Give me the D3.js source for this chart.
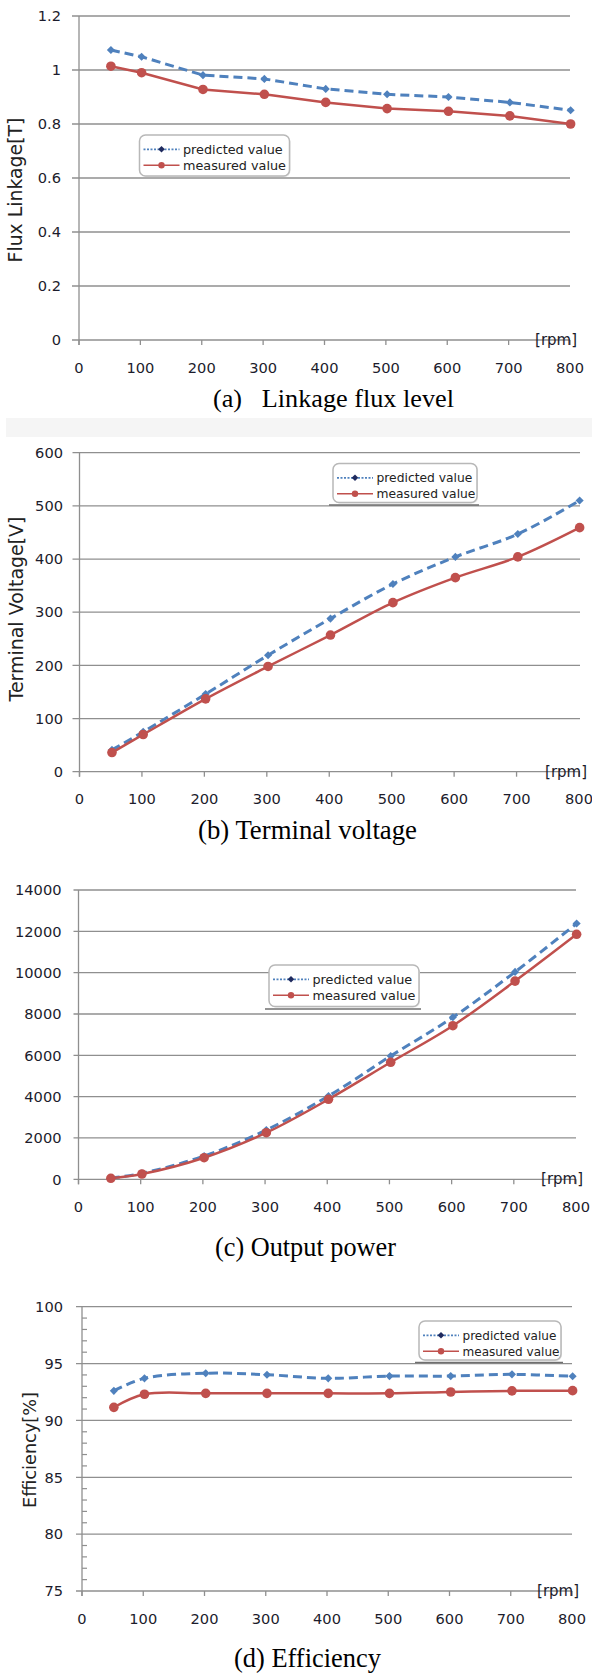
<!DOCTYPE html>
<html><head><meta charset="utf-8">
<script src="https://cdn.jsdelivr.net/npm/d3@7"></script>
<style>
body{margin:0;background:#fff}
svg{display:block}
text{font-family:"DejaVu Sans",Verdana,sans-serif}
.cap{font-family:"Liberation Serif","Times New Roman",serif;white-space:pre}
</style>
</head><body>
<svg id="c" width="592" height="1673"></svg>
<script>
// ---------- data ----------
const rpm = [52, 102, 202, 302, 402, 502, 602, 702, 801];
const seriesNames = ["predicted value", "measured value"];
const xTicks = [0, 100, 200, 300, 400, 500, 600, 700, 800];

const fluxPredicted = [1.074, 1.049, 0.981, 0.967, 0.930, 0.910, 0.900, 0.880, 0.851];
const fluxMeasured  = [1.014, 0.990, 0.928, 0.910, 0.880, 0.857, 0.847, 0.830, 0.800];
const fluxTicks = [0, 0.2, 0.4, 0.6, 0.8, 1, 1.2];

const voltagePredicted = [41, 75, 146, 219, 288, 353, 404, 447, 510];
const voltageMeasured  = [36, 70, 137, 198, 257, 318, 365, 404, 459];
const voltageTicks = [0, 100, 200, 300, 400, 500, 600];

const powerPredicted = [60, 290, 1128, 2386, 4031, 5967, 7839, 10035, 12378];
const powerMeasured  = [48, 256, 1045, 2255, 3871, 5662, 7434, 9592, 11855];
const powerTicks = [0, 2000, 4000, 6000, 8000, 10000, 12000, 14000];

const effPredicted = [92.6, 93.7, 94.15, 94.02, 93.7, 93.9, 93.9, 94.05, 93.88];
const effMeasured  = [91.15, 92.3, 92.38, 92.38, 92.38, 92.38, 92.5, 92.6, 92.62];
const effTicks = [75, 80, 85, 90, 95, 100];
const effMinorTicks = d3.range(75, 100).filter(v => v % 5 !== 0);

const yTitles = ["Flux Linkage[T]", "Terminal Voltage[V]", "", "Efficiency[%]"];
const captions = ["(a)   Linkage flux level", "(b) Terminal voltage", "(c) Output power", "(d) Efficiency"];
const unitLabel = "[rpm]";

// ---------- styles ----------
const BLUE = "#4F81BD", RED = "#C0504D", NAVY = "#1F2A5E", GRID = "#8f8f8f", TXT = "#1c1c2c";

const svg = d3.select("#c");

// scale the font so a text reaches a target width
function fitSize(sel, target, base) {
  sel.attr("font-size", base);
  const w = sel.node().getComputedTextLength();
  const s = w > 0 ? base * target / w : base;
  sel.attr("font-size", s);
  return s;
}

// measure tick font size from the widest label
const probe = svg.append("text").text("14000");
const TICK_FS = fitSize(probe, 46.5, 15);
probe.attr("font-size", 15).text("[rpm]");
const UNIT_FS = fitSize(probe, 42, 14);
probe.remove();

// light band between (a) and (b)
svg.append("rect").attr("x", 6).attr("y", 418).attr("width", 586).attr("height", 19).attr("fill", "#f5f5f5");

const charts = [
  {pred: fluxPredicted, meas: fluxMeasured, ticks: fluxTicks, dom: [0, 1.2],
   xr: [79, 570], yr: [340, 16], gx0: 72, gx1: 570, lblX: 61, title: yTitles[0], tX: 21.5, tY: 190, tW: 145,
   smooth: false, leg: {x: 139.5, y: 135, w: 150, h: 41, shadow: false, tw: 103},
   cap: captions[0], capX: 213, capY: 407, capW: 241},
  {pred: voltagePredicted, meas: voltageMeasured, ticks: voltageTicks, dom: [0, 600],
   xr: [79.5, 579], yr: [771.7, 452.7], gx0: 72.5, gx1: 580, lblX: 63, title: yTitles[1], tX: 22.5, tY: 609, tW: 185,
   smooth: true, leg: {x: 333, y: 463.5, w: 144, h: 39, shadow: true, tw: 99},
   cap: captions[1], capX: 198, capY: 839, capW: 219},
  {pred: powerPredicted, meas: powerMeasured, ticks: powerTicks, dom: [0, 14000],
   xr: [78.5, 576], yr: [1179.3, 890], gx0: 73.5, gx1: 576, lblX: 61.5, title: yTitles[2], tX: 20, tY: 1030, tW: 0,
   smooth: true, leg: {x: 269, y: 965, w: 150, h: 41.5, shadow: true, tw: 103},
   cap: captions[2], capX: 215, capY: 1256, capW: 181},
  {pred: effPredicted, meas: effMeasured, ticks: effTicks, dom: [75, 100], minor: effMinorTicks,
   xr: [82, 572], yr: [1591, 1306.7], gx0: 76, gx1: 572, lblX: 63, title: yTitles[3], tX: 35.5, tY: 1450, tW: 116,
   smooth: true, leg: {x: 419, y: 1321, w: 142, h: 39, shadow: true, tw: 97},
   cap: captions[3], capX: 234, capY: 1667, capW: 147}
];

charts.forEach(c => {
  const g = svg.append("g");
  const x = d3.scaleLinear().domain([0, 800]).range(c.xr);
  const y = d3.scaleLinear().domain(c.dom).range(c.yr);
  const x0 = x(0), yb = y(c.dom[0]);

  // gridlines (all horizontal incl. axis)
  g.selectAll(".grid").data(c.ticks).enter().append("line")
    .attr("x1", c.gx0).attr("x2", c.gx1)
    .attr("y1", d => y(d)).attr("y2", d => y(d))
    .attr("stroke", GRID).attr("stroke-width", 1.3);
  // y axis line
  g.append("line").attr("x1", x0).attr("x2", x0).attr("y1", y(c.dom[1])).attr("y2", yb + 5)
    .attr("stroke", GRID).attr("stroke-width", 1.3);
  // x ticks
  g.selectAll(".xt").data(xTicks).enter().append("line")
    .attr("x1", d => x(d)).attr("x2", d => x(d)).attr("y1", yb).attr("y2", yb + 5)
    .attr("stroke", GRID).attr("stroke-width", 1.3);
  // minor ticks
  if (c.minor) {
    g.selectAll(".mt").data(c.minor).enter().append("line")
      .attr("x1", x0).attr("x2", x0 + 5).attr("y1", d => y(d)).attr("y2", d => y(d))
      .attr("stroke", GRID).attr("stroke-width", 1.2);
  }
  // y tick labels
  g.selectAll(".yl").data(c.ticks).enter().append("text")
    .attr("x", c.lblX).attr("y", d => y(d)).attr("dy", "0.36em")
    .attr("text-anchor", "end").attr("font-size", TICK_FS).attr("fill", TXT)
    .text(d => String(d));
  // x tick labels
  g.selectAll(".xl").data(xTicks).enter().append("text")
    .attr("x", d => x(d)).attr("y", yb + 32.5)
    .attr("text-anchor", "middle").attr("font-size", TICK_FS).attr("fill", TXT)
    .text(d => String(d));
  // unit label
  g.append("text").attr("x", c.gx1 + 7).attr("y", yb + 5).attr("text-anchor", "end")
    .attr("font-size", UNIT_FS).attr("fill", TXT).text(unitLabel);
  // y title
  if (c.title) {
    const t = g.append("text").attr("transform", `translate(${c.tX},${c.tY}) rotate(-90)`)
      .attr("text-anchor", "middle").attr("fill", "#222").text(c.title);
    fitSize(t, c.tW, 18);
  }

  // lines
  const line = d3.line().x((d, i) => x(rpm[i])).y(d => y(d))
    .curve(c.smooth ? d3.curveCatmullRom.alpha(0.5) : d3.curveLinear);
  g.append("path").attr("d", line(c.pred)).attr("fill", "none").attr("stroke", BLUE)
    .attr("stroke-width", 3).attr("stroke-dasharray", "9,5");
  g.append("path").attr("d", line(c.meas)).attr("fill", "none").attr("stroke", RED)
    .attr("stroke-width", 2.5);
  // markers
  const dia = d3.symbol().type(d3.symbolDiamond2).size(42);
  g.selectAll(".pm").data(c.pred).enter().append("path")
    .attr("d", dia).attr("transform", (d, i) => `translate(${x(rpm[i])},${y(d)})`)
    .attr("fill", BLUE);
  g.selectAll(".mm").data(c.meas).enter().append("circle")
    .attr("cx", (d, i) => x(rpm[i])).attr("cy", d => y(d)).attr("r", 4.8).attr("fill", RED);

  // legend
  const L = c.leg;
  if (L.shadow) {
    g.append("line").attr("x1", L.x - 4).attr("x2", L.x + L.w + 2).attr("y1", L.y + L.h + 2.5).attr("y2", L.y + L.h + 2.5)
      .attr("stroke", "#6f6f6f").attr("stroke-width", 1.6);
  }
  g.append("rect").attr("x", L.x + 1).attr("y", L.y + 1).attr("width", L.w).attr("height", L.h)
    .attr("rx", 6).attr("fill", "#e6e6e6");
  g.append("rect").attr("x", L.x).attr("y", L.y).attr("width", L.w).attr("height", L.h)
    .attr("rx", 6).attr("fill", "#fff").attr("stroke", "#b8b8b8").attr("stroke-width", 1.5);
  const rows = [L.y + 14.3, L.y + 30.3];
  // predicted sample
  g.append("line").attr("x1", L.x + 4).attr("x2", L.x + 40).attr("y1", rows[0]).attr("y2", rows[0])
    .attr("stroke", BLUE).attr("stroke-width", 1.8).attr("stroke-dasharray", "2,1.5");
  g.append("path").attr("d", d3.symbol().type(d3.symbolDiamond2).size(28))
    .attr("transform", `translate(${L.x + 22},${rows[0]})`).attr("fill", NAVY);
  // measured sample
  g.append("line").attr("x1", L.x + 4).attr("x2", L.x + 40).attr("y1", rows[1]).attr("y2", rows[1])
    .attr("stroke", RED).attr("stroke-width", 1.5);
  g.append("circle").attr("cx", L.x + 22).attr("cy", rows[1]).attr("r", 3.2).attr("fill", RED);
  const lt = g.selectAll(".lt").data(seriesNames).enter().append("text")
    .attr("x", L.x + 43.5).attr("y", (d, i) => rows[i]).attr("dy", "0.36em")
    .attr("fill", "#222").text(d => d);
  const lfs = fitSize(d3.select(lt.nodes()[1]), L.tw, 12.3);
  lt.attr("font-size", lfs);

  // caption
  const cap = svg.append("text").attr("class", "cap").attr("x", c.capX).attr("y", c.capY)
    .attr("fill", "#000").text(c.cap);
  fitSize(cap, c.capW, 26);
});
</script>
</body></html>
